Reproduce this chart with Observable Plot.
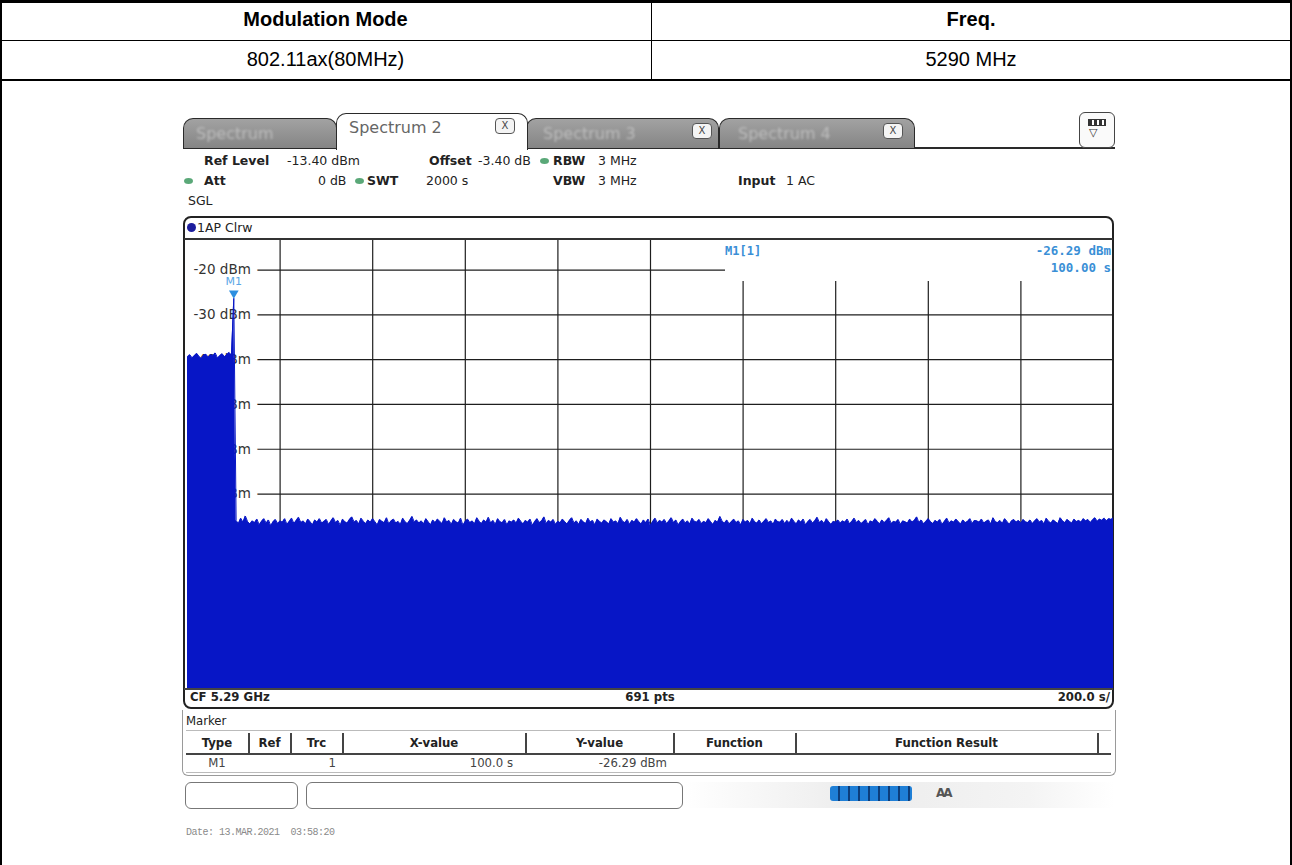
<!DOCTYPE html>
<html>
<head>
<meta charset="utf-8">
<script src="https://cdn.jsdelivr.net/npm/d3@7"></script>
<script src="https://cdn.jsdelivr.net/npm/@observablehq/plot@0.6"></script>
<style>
  html, body { margin: 0; padding: 0; background: #fff; }
  #page { position: relative; width: 1292px; height: 865px; overflow: hidden; background: #fff; font-family: "DejaVu Sans", sans-serif; }
  .abs { position: absolute; }
  .hdr { position: absolute; font-family: "Liberation Sans", Arial, sans-serif; font-size: 20px; color: #000; text-align: center; }
  .ui { position: absolute; font-size: 12.5px; color: #222; white-space: nowrap; line-height: 14px; }
  .ui b { font-weight: bold; }
  .tab { position: absolute; border: 1.6px solid #2a2a2a; border-bottom: none; border-radius: 10px 10px 0 0; box-sizing: border-box; }
  .tab.off { background: linear-gradient(#a2a2a2, #858585); }
  .tab.on { background: #fff; }
  .tabtxt { position: absolute; font-size: 16px; white-space: nowrap; }
  .off .tabtxt { color: #bdbdbd; filter: blur(0.9px); }
  .xbox { position: absolute; width: 18px; height: 14px; border: 1.3px solid #555; border-radius: 4px; background: #f4f4f4; font-size: 10px; line-height: 14px; text-align: center; color: #444; }
  .gdot { position: absolute; width: 9px; height: 6px; border-radius: 50%; background: #5aa878; }
  .mk { position: absolute; font-family: "DejaVu Sans Condensed", "DejaVu Sans", sans-serif; font-size: 13px; color: #222; white-space: nowrap; }
  .sep { position: absolute; width: 1.5px; background: #444; }
  svg text { paint-order: stroke; }
</style>
</head>
<body>
<div id="page">
  <!-- outer report table -->
  <div class="abs" style="left:0;top:0;width:1292px;height:3px;background:#000"></div>
  <div class="abs" style="left:0;top:0;width:2px;height:865px;background:#000"></div>
  <div class="abs" style="left:1290px;top:0;width:2px;height:865px;background:#000"></div>
  <div class="abs" style="left:0;top:40px;width:1292px;height:1px;background:#000"></div>
  <div class="abs" style="left:0;top:79px;width:1292px;height:2px;background:#000"></div>
  <div class="abs" style="left:651px;top:0;width:1px;height:80px;background:#000"></div>
  <div class="hdr" style="left:0;width:651px;top:8px;font-weight:bold">Modulation Mode</div>
  <div class="hdr" style="left:652px;width:638px;top:8px;font-weight:bold">Freq.</div>
  <div class="hdr" style="left:0;width:651px;top:48px">802.11ax(80MHz)</div>
  <div class="hdr" style="left:652px;width:638px;top:48px">5290 MHz</div>

  <!-- tab bar -->
  <div class="abs" style="left:183px;top:147px;width:932px;height:1.6px;background:#2a2a2a"></div>
  <div class="tab off" style="left:183px;top:118px;width:154px;height:30px"><div class="tabtxt" style="left:12px;top:5px">Spectrum</div></div>
  <div class="tab off" style="left:526px;top:118px;width:193px;height:30px"><div class="tabtxt" style="left:16px;top:5px">Spectrum 3</div><div class="xbox" style="left:165px;top:4px">X</div></div>
  <div class="tab off" style="left:719px;top:118px;width:196px;height:30px"><div class="tabtxt" style="left:18px;top:5px">Spectrum 4</div><div class="xbox" style="left:163px;top:4px">X</div></div>
  <div class="tab on" style="left:336px;top:113px;width:192px;height:37px"><div class="tabtxt" style="left:12px;top:4px;color:#666">Spectrum 2</div><div class="xbox" style="left:158px;top:4px">X</div></div>
  <div class="abs" style="left:1079px;top:112px;width:34px;height:34px;border:1.5px solid #444;border-radius:6px;background:#fafafa"></div>
  <div class="abs" style="left:1088px;top:119px;width:16px;height:5px;border:1.5px solid #333;background:repeating-linear-gradient(90deg,#333 0 3px,#fff 3px 5px)"></div>
  <div class="abs" style="left:1089px;top:126px;font-size:11px;color:#333">▽</div>

  <!-- instrument settings -->
  <div class="ui" style="left:204px;top:154px"><b>Ref Level</b></div>
  <div class="ui" style="left:287px;top:154px">-13.40 dBm</div>
  <div class="ui" style="left:429px;top:154px"><b>Offset</b></div>
  <div class="ui" style="left:478px;top:154px">-3.40 dB</div>
  <div class="gdot" style="left:540px;top:158px"></div>
  <div class="ui" style="left:553px;top:154px"><b>RBW</b></div>
  <div class="ui" style="left:598px;top:154px">3 MHz</div>
  <div class="gdot" style="left:184px;top:178px"></div>
  <div class="ui" style="left:204px;top:174px"><b>Att</b></div>
  <div class="ui" style="left:318px;top:174px">0 dB</div>
  <div class="gdot" style="left:355px;top:178px"></div>
  <div class="ui" style="left:367px;top:174px"><b>SWT</b></div>
  <div class="ui" style="left:426px;top:174px">2000 s</div>
  <div class="ui" style="left:553px;top:174px"><b>VBW</b></div>
  <div class="ui" style="left:598px;top:174px">3 MHz</div>
  <div class="ui" style="left:738px;top:174px"><b>Input</b></div>
  <div class="ui" style="left:786px;top:174px">1 AC</div>
  <div class="ui" style="left:188px;top:194px">SGL</div>

  <!-- diagram frame -->
  <div class="abs" style="left:183px;top:216px;width:931px;height:493px;border:2px solid #222;border-radius:8px;box-sizing:border-box"></div>
  <div class="abs" style="left:184px;top:238px;width:929px;height:1.5px;background:#333"></div>
  <div class="abs" style="left:187px;top:223px;width:9px;height:9px;border-radius:50%;background:#1c1c9c"></div>
  <div class="ui" style="left:197px;top:221px;font-size:12.5px">1AP Clrw</div>
  <div id="chart" class="abs" style="left:187px;top:240px;width:926px;height:448px"></div>
  <!-- marker readout box -->
  <div class="abs" style="left:725px;top:240px;width:387px;height:41px;background:#fff"></div>
  <div class="ui" style="left:725px;top:244px;color:#3a8fd6;font-weight:bold;font-size:12px;font-family:'DejaVu Sans Mono',monospace">M1[1]</div>
  <div class="ui" style="left:900px;width:211px;text-align:right;top:244px;color:#3a8fd6;font-weight:bold;font-size:12.5px;font-family:'DejaVu Sans Mono',monospace">-26.29 dBm</div>
  <div class="ui" style="left:900px;width:211px;text-align:right;top:261px;color:#3a8fd6;font-weight:bold;font-size:12.5px;font-family:'DejaVu Sans Mono',monospace">100.00 s</div>
  <!-- footer of diagram -->
  <div class="abs" style="left:184px;top:688px;width:929px;height:1.5px;background:#444"></div>
  <div class="mk" style="left:190px;top:689px;font-weight:bold">CF 5.29 GHz</div>
  <div class="mk" style="left:560px;width:180px;text-align:center;top:689px;font-weight:bold">691 pts</div>
  <div class="mk" style="left:900px;width:210px;text-align:right;top:689px;font-weight:bold">200.0 s/</div>

  <!-- marker table -->
  <div class="abs" style="left:182px;top:710px;width:934px;height:66px;border:1.5px solid #9a9a9a;border-top:none;border-radius:0 0 6px 6px;box-sizing:border-box"></div>
  <div class="mk" style="left:186px;top:713px">Marker</div>
  <div class="abs" style="left:186px;top:730px;width:925px;height:1px;background:#bbb"></div>
  <div class="abs" style="left:186px;top:753px;width:925px;height:1.5px;background:#444"></div>
  <div class="sep" style="left:248px;top:733px;height:20px"></div>
  <div class="sep" style="left:290px;top:733px;height:20px"></div>
  <div class="sep" style="left:342px;top:733px;height:20px"></div>
  <div class="sep" style="left:525px;top:733px;height:20px"></div>
  <div class="sep" style="left:673px;top:733px;height:20px"></div>
  <div class="sep" style="left:795px;top:733px;height:20px"></div>
  <div class="sep" style="left:1097px;top:733px;height:20px"></div>
  <div class="mk" style="left:186px;width:62px;text-align:center;top:735px;font-weight:bold">Type</div>
  <div class="mk" style="left:249px;width:41px;text-align:center;top:735px;font-weight:bold">Ref</div>
  <div class="mk" style="left:291px;width:51px;text-align:center;top:735px;font-weight:bold">Trc</div>
  <div class="mk" style="left:343px;width:182px;text-align:center;top:735px;font-weight:bold">X-value</div>
  <div class="mk" style="left:526px;width:147px;text-align:center;top:735px;font-weight:bold">Y-value</div>
  <div class="mk" style="left:674px;width:121px;text-align:center;top:735px;font-weight:bold">Function</div>
  <div class="mk" style="left:796px;width:301px;text-align:center;top:735px;font-weight:bold">Function Result</div>
  <div class="mk" style="left:186px;width:62px;text-align:center;top:755px;color:#444">M1</div>
  <div class="mk" style="left:291px;width:45px;text-align:right;top:755px;color:#444">1</div>
  <div class="mk" style="left:343px;width:170px;text-align:right;top:755px;color:#444">100.0 s</div>
  <div class="mk" style="left:526px;width:141px;text-align:right;top:755px;color:#444">-26.29 dBm</div>
  <div class="abs" style="left:186px;top:772px;width:925px;height:1px;background:#bbb"></div>

  <!-- status bar -->
  <div class="abs" style="left:185px;top:782px;width:113px;height:27px;border:1.3px solid #777;border-radius:6px;box-sizing:border-box"></div>
  <div class="abs" style="left:306px;top:782px;width:377px;height:27px;border:1.3px solid #777;border-radius:6px;box-sizing:border-box"></div>
  <div class="abs" style="left:684px;top:782px;width:431px;height:26px;background:linear-gradient(90deg,#fff,#ececec 40%,#f4f4f4 80%,#fff)"></div>
  <div class="abs" style="left:830px;top:786px;width:82px;height:15px;background:repeating-linear-gradient(90deg,#1f7fd6 0 8px,#0c3d7a 8px 10px);border-radius:3px"></div>
  <div class="abs" style="left:936px;top:786px;font-size:12px;font-weight:bold;color:#555;letter-spacing:-2px">AA</div>
  <div class="abs" style="left:186px;top:827px;font-family:'Liberation Mono',monospace;font-size:10px;letter-spacing:-0.5px;color:#8a8a8a;white-space:pre">Date: 13.MAR.2021  03:58:20</div>
</div>
<script>
// ---- data ----
const refLevel = -13.4;            // dBm, top of diagram
const rangeDb = 100;               // 10 dB/div, 10 divisions
const sweepTime = 2000;            // s
const sweepStep = 5;               // s between listed trace points
const dBmTicks = [-20, -30, -40, -50, -60, -70, -80, -90, -100, -110];
const timeGrid = [200, 400, 600, 800, 1000, 1200, 1400, 1600, 1800];
const markerTime = 100;            // s
const markerLevel = -26.29;        // dBm
// burst level from 0 s up to the marker (dBm)
const burstLevels = [-39.4,-38.9,-39.6,-39.1,-38.6,-39.3,-39.8,-39.0,-38.8,-39.5,-38.9,-39.2,-38.5,-39.7,-39.1,-38.7,-39.4,-38.9,-38.4,-39.0];
// noise floor after the marker, 105 s .. 2000 s (dBm)
const floorLevels = [
-75.9,-76.6,-75.4,-76.3,-74.9,-76.2,-76.7,-76.0,-76.4,-75.6,-76.9,-76.1,-75.5,-76.5,-75.8,-77.1,-76.2,-75.7,-76.6,-76.0,
-76.3,-75.5,-76.8,-76.1,-75.4,-76.6,-75.9,-75.2,-76.4,-76.0,-76.7,-75.6,-76.2,-76.9,-75.8,-76.3,-75.5,-76.5,-76.1,-75.7,
-76.8,-76.0,-75.3,-76.4,-75.9,-77.0,-75.6,-76.2,-76.5,-75.7,-75.1,-76.3,-75.9,-76.7,-75.4,-76.1,-76.6,-75.8,-76.3,-75.5,
-76.2,-76.9,-75.7,-76.1,-76.4,-75.3,-76.7,-76.0,-75.6,-76.5,-76.1,-76.8,-75.4,-76.2,-76.6,-75.9,-75.0,-76.3,-75.8,-76.5,
-76.0,-76.7,-75.5,-76.2,-76.9,-75.8,-76.4,-75.6,-76.1,-76.6,-75.3,-76.3,-75.9,-76.8,-75.7,-76.2,-76.5,-75.4,-77.0,-76.1,
-75.6,-76.4,-76.0,-76.7,-75.3,-76.1,-76.6,-75.8,-76.3,-75.2,-76.5,-75.9,-76.8,-75.5,-76.2,-76.4,-75.7,-76.9,-76.0,-76.3,
-75.8,-76.5,-75.4,-76.1,-76.7,-75.9,-76.3,-75.6,-77.0,-76.2,-75.5,-76.4,-76.0,-75.1,-76.6,-75.9,-76.3,-75.7,-76.8,-76.1,
-76.4,-75.6,-76.2,-76.7,-75.9,-75.3,-76.5,-76.0,-76.8,-75.7,-76.2,-76.6,-75.4,-76.3,-75.9,-76.9,-75.6,-76.1,-76.5,-75.8,
-76.2,-76.7,-75.5,-76.3,-76.0,-76.6,-75.2,-76.1,-76.4,-75.7,-76.8,-75.9,-76.3,-75.5,-76.2,-76.7,-75.8,-76.4,-75.6,-77.0,
-76.1,-75.4,-76.5,-75.9,-76.3,-75.7,-76.6,-76.0,-75.3,-76.4,-75.8,-76.9,-76.2,-75.6,-76.5,-76.0,-76.7,-75.4,-76.1,-76.3,
-75.7,-76.6,-76.1,-76.4,-75.5,-76.2,-76.8,-75.9,-76.3,-75.0,-76.1,-76.5,-75.8,-76.7,-76.2,-75.6,-76.4,-76.0,-76.9,-75.7,
-76.3,-75.9,-76.6,-75.4,-76.2,-76.5,-75.8,-76.7,-76.1,-75.5,-76.4,-76.0,-76.8,-75.6,-76.2,-76.3,-75.7,-76.6,-75.9,-76.5,
-75.4,-76.1,-76.7,-75.8,-76.3,-75.6,-76.9,-76.2,-75.7,-76.5,-76.0,-75.2,-76.4,-75.9,-76.6,-75.5,-76.2,-76.8,-76.1,-76.3,
-75.8,-76.5,-76.0,-76.3,-75.6,-76.7,-76.1,-75.4,-76.4,-75.9,-76.6,-76.2,-75.7,-76.9,-76.0,-76.3,-75.5,-76.1,-76.7,-75.8,
-76.4,-75.9,-75.3,-76.6,-76.1,-76.3,-75.7,-76.8,-76.0,-76.2,-76.5,-75.6,-76.3,-75.9,-75.1,-76.4,-75.8,-76.7,-76.1,-75.5,
-76.2,-76.6,-75.9,-76.3,-75.7,-76.8,-76.1,-75.4,-76.5,-76.0,-76.3,-75.6,-76.2,-76.7,-75.8,-76.4,-76.1,-75.5,-76.6,-75.9,
-76.0,-76.3,-75.6,-76.5,-76.1,-75.8,-76.7,-75.3,-76.2,-76.4,-75.9,-76.6,-75.5,-76.1,-76.8,-76.0,-75.7,-76.3,-75.9,-76.5,
-75.7,-76.2,-76.4,-75.8,-76.6,-76.0,-75.5,-76.3,-75.9,-76.7,-75.4,-76.1,-76.5,-75.8,-76.2,-76.6,-75.3,-76.0,-76.4,-75.7,
-76.1,-76.5,-75.6,-76.2,-75.9,-76.3,-75.5,-76.0,-75.7,-76.4,-75.8,-75.3,-76.1,-75.6,-75.9,-75.4,-76.0,-75.5,-75.7,-75.3
];

const traceBlue = "#0716c6";
const markerBlue = "#2d8fe0";
const gridColor = "#1e1e1e";

const trace = [
  ...burstLevels.map((v, i) => ({t: i * sweepStep, v})),
  {t: markerTime, v: markerLevel},
  ...floorLevels.map((v, i) => ({t: markerTime + (i + 1) * sweepStep, v}))
];
const marker = [{t: markerTime, v: markerLevel, label: "M1"}];
const bottom = refLevel - rangeDb;

const chart = Plot.plot({
  width: 926,
  height: 448,
  margin: 0,
  style: {background: "transparent", overflow: "visible"},
  x: {domain: [0, sweepTime], axis: null},
  y: {domain: [bottom, refLevel], axis: null},
  marks: [
    Plot.ruleY(dBmTicks, {stroke: gridColor, strokeWidth: 1.2}),
    Plot.text(dBmTicks, {
      y: d => d, text: d => `${d} dBm`, frameAnchor: "left", textAnchor: "start", dx: 6,
      fill: "#333", stroke: "white", strokeWidth: 15, fontSize: 13.5, fontFamily: "DejaVu Sans"
    }),
    Plot.ruleX(timeGrid, {stroke: gridColor, strokeWidth: 1.2}),
    Plot.areaY(trace, {x: "t", y1: bottom, y2: "v", fill: traceBlue, clip: true}),
    Plot.lineY(trace, {x: "t", y: "v", stroke: traceBlue, strokeWidth: 1, clip: true}),
    Plot.dot(marker, {x: "t", y: "v", symbol: "triangle", rotate: 180, r: 3.6, fill: markerBlue, stroke: "none", dy: -5}),
    Plot.text(marker, {x: "t", y: "v", text: "label", dy: -17, fill: "#5aa6e6", fontSize: 11, fontFamily: "DejaVu Sans"})
  ]
});
document.getElementById("chart").appendChild(chart);
</script>
</body>
</html>
